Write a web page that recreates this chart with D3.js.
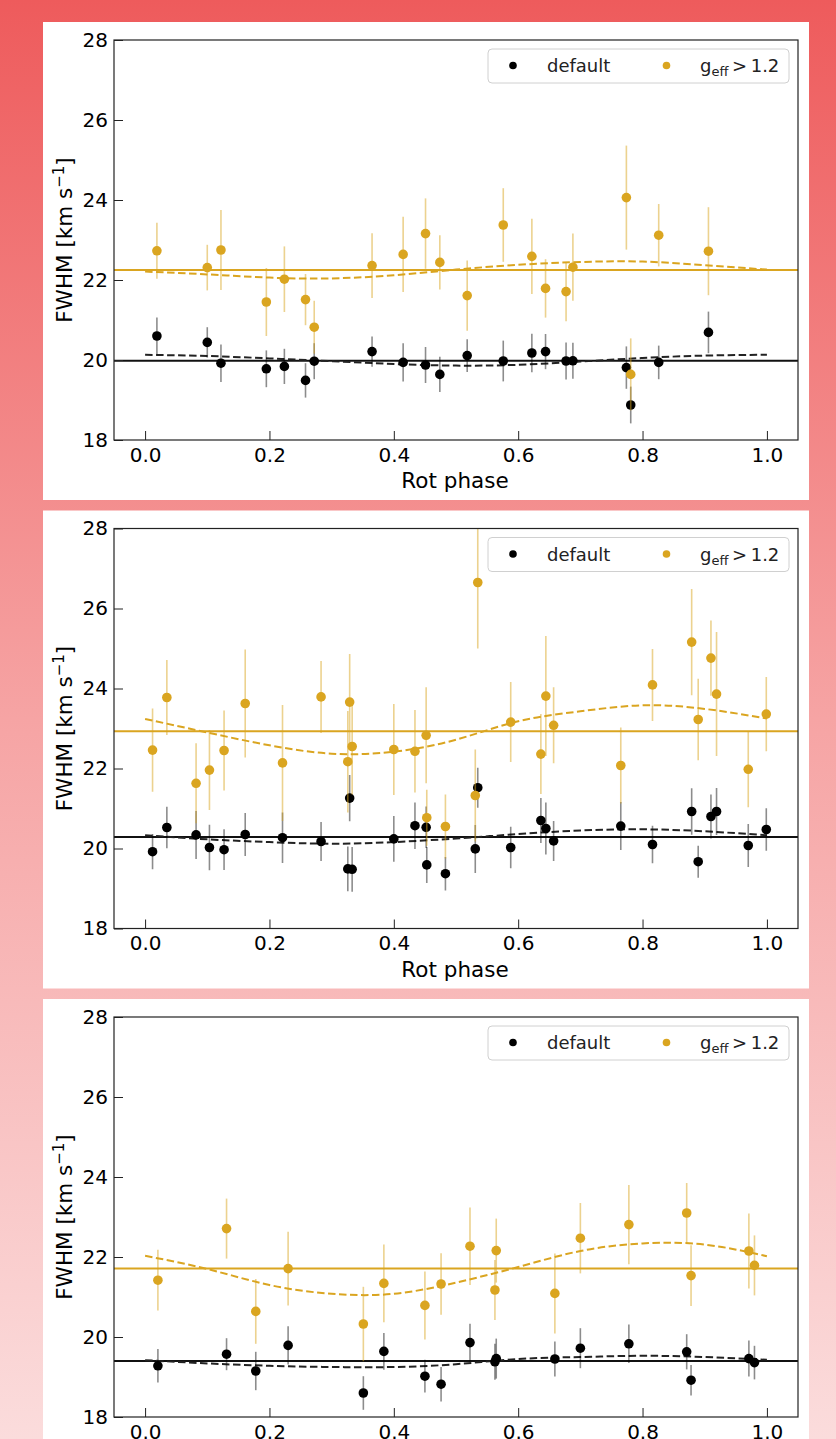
<!DOCTYPE html>
<html><head><meta charset="utf-8">
<script src="https://cdn.jsdelivr.net/npm/d3@7"></script>
<style>html,body{margin:0;padding:0;overflow:hidden}svg{display:block}</style>
</head><body>
<script>
// ---------- data ----------
const xTicks = [0, 0.2, 0.4, 0.6, 0.8, 1.0];
const yTicks = [18, 20, 22, 24, 26, 28];
const legendLabels = ["default", "g_eff > 1.2"];
const fitPhase = [0, 0.1, 0.2, 0.3, 0.4, 0.5, 0.6, 0.7, 0.8, 0.9, 1.0];

// panel 1
const p1Phase = [0.019,0.100,0.122,0.195,0.224,0.258,0.272,0.365,0.415,0.451,0.474,0.518,0.576,0.622,0.644,0.677,0.688,0.774,0.781,0.826,0.906];
const p1Gold = [22.73,22.31,22.75,21.45,22.02,21.51,20.82,22.36,22.64,23.16,22.44,21.61,23.375,22.59,21.79,21.71,22.32,24.06,19.64,23.12,22.72];
const p1GoldErr = [0.7,0.57,1.0,0.85,0.82,0.64,0.66,0.81,0.94,0.88,0.68,0.88,0.92,0.94,0.73,0.74,0.84,1.3,0.9,0.78,1.1];
const p1Def = [20.6,20.44,19.92,19.78,19.84,19.49,19.97,20.21,19.94,19.875,19.64,20.11,19.975,20.175,20.21,19.975,19.98,19.81,18.875,19.94,20.69];
const p1DefErr = [0.46,0.38,0.47,0.46,0.44,0.43,0.45,0.38,0.48,0.45,0.44,0.41,0.51,0.48,0.44,0.46,0.45,0.53,0.46,0.42,0.52];
const p1Mean = [19.98, 22.25];
const p1DefFit = [20.13,20.1,20.04,19.97,19.9,19.86,19.88,19.96,20.05,20.11,20.13];
const p1GoldFit = [22.21,22.14,22.06,22.04,22.12,22.26,22.38,22.45,22.46,22.37,22.26];

// panel 2
const p2Phase = [0.012,0.035,0.082,0.1035,0.127,0.161,0.221,0.283,0.329,0.326,0.333,0.400,0.434,0.452,0.453,0.483,0.535,0.531,0.588,0.6365,0.6445,0.657,0.765,0.816,0.879,0.8895,0.910,0.919,0.970,0.999];
const p2Gold = [22.46,23.775,21.63,21.96,22.45,23.625,22.14,23.79,23.66,22.17,22.55,22.475,22.43,22.83,20.77,20.55,26.65,21.325,23.16,22.36,23.81,23.08,22.075,24.09,25.16,23.225,24.76,23.86,21.98,23.36];
const p2GoldErr = [1.04,0.94,1.0,1.0,1.0,1.35,1.45,0.9,1.2,1.27,1.2,1.14,1.03,1.2,0.7,0.8,1.65,1.15,1.0,1.0,1.5,0.95,0.95,0.9,1.33,1.02,0.94,1.55,0.95,0.93];
const p2Def = [19.92,20.525,20.34,20.025,19.97,20.35,20.27,20.175,21.26,19.49,19.48,20.24,20.57,20.53,19.59,19.37,21.52,19.99,20.025,20.7,20.5,20.19,20.56,20.1,20.925,19.67,20.8,20.925,20.075,20.475];
const p2DefErr = [0.44,0.52,0.6,0.57,0.51,0.54,0.63,0.49,0.58,0.56,0.56,0.57,0.58,0.52,0.45,0.42,0.5,0.6,0.52,0.56,0.65,0.5,0.6,0.47,0.58,0.4,0.55,0.59,0.54,0.53];
const p2Mean = [20.29, 22.93];
const p2DefFit = [20.33,20.23,20.16,20.12,20.16,20.25,20.36,20.45,20.48,20.43,20.33];
const p2GoldFit = [23.24,22.9,22.58,22.37,22.42,22.72,23.18,23.43,23.58,23.49,23.25];

// panel 3
const p3Phase = [0.0206,0.131,0.178,0.230,0.351,0.384,0.450,0.476,0.5225,0.5647,0.5626,0.659,0.700,0.778,0.871,0.878,0.971,0.980];
const p3Gold = [21.42,22.71,20.64,21.71,20.325,21.34,20.79,21.325,22.27,22.16,21.175,21.09,22.47,22.81,23.1,21.535,22.15,21.79];
const p3GoldErr = [0.76,0.75,0.81,0.92,0.93,0.97,0.85,0.77,0.97,0.8,0.75,1.0,0.88,0.99,0.75,0.76,0.94,0.75];
const p3Def = [19.28,19.57,19.15,19.79,18.6,19.64,19.02,18.82,19.86,19.46,19.38,19.45,19.72,19.83,19.63,18.92,19.46,19.36];
const p3DefErr = [0.42,0.4,0.48,0.48,0.42,0.46,0.41,0.43,0.47,0.5,0.45,0.44,0.5,0.48,0.44,0.38,0.45,0.42];
const p3Mean = [19.4, 21.71];
const p3DefFit = [19.42,19.34,19.28,19.25,19.25,19.32,19.45,19.5,19.53,19.5,19.43];
const p3GoldFit = [22.03,21.7,21.3,21.08,21.08,21.36,21.75,22.15,22.34,22.31,22.02];

const panels = [
  {phase:p1Phase, gold:p1Gold, goldErr:p1GoldErr, def:p1Def, defErr:p1DefErr, mean:p1Mean, defFit:p1DefFit, goldFit:p1GoldFit},
  {phase:p2Phase, gold:p2Gold, goldErr:p2GoldErr, def:p2Def, defErr:p2DefErr, mean:p2Mean, defFit:p2DefFit, goldFit:p2GoldFit},
  {phase:p3Phase, gold:p3Gold, goldErr:p3GoldErr, def:p3Def, defErr:p3DefErr, mean:p3Mean, defFit:p3DefFit, goldFit:p3GoldFit}
];

// ---------- drawing ----------
const W = 836, H = 1439;
const GOLD = "#DAA520";
const svg = d3.select("body").append("svg").attr("width", W).attr("height", H)
  .style("font-family", "'DejaVu Sans', sans-serif");
const defs = svg.append("defs");
const grad = defs.append("linearGradient").attr("id","bg").attr("x1",0).attr("y1",0).attr("x2",0).attr("y2",1);
grad.append("stop").attr("offset","0%").attr("stop-color","#ee5b5c");
grad.append("stop").attr("offset","50%").attr("stop-color","#f6a4a4");
grad.append("stop").attr("offset","100%").attr("stop-color","#fbdcdc");
svg.append("rect").attr("width",W).attr("height",H).attr("fill","url(#bg)");

const axL = 114, axR = 798, axH = 400;
const panelTop = [40, 528.5, 1017];

panels.forEach((p, i) => {
  const top = panelTop[i];
  svg.append("rect").attr("x",43).attr("y",top-18).attr("width",766).attr("height",478).attr("fill","#fff");

  const x = d3.scaleLinear().domain([-0.05, 1.05]).range([axL, axR]);
  const y = d3.scaleLinear().domain([18, 28]).range([top + axH, top]);

  const clipId = "clip" + i;
  defs.append("clipPath").attr("id", clipId).append("rect")
    .attr("x", axL).attr("y", top).attr("width", axR-axL).attr("height", axH);
  const g = svg.append("g").attr("clip-path", `url(#${clipId})`);

  g.append("line").attr("x1",axL).attr("x2",axR).attr("y1",y(p.mean[0])).attr("y2",y(p.mean[0]))
    .attr("stroke","#111").attr("stroke-width",2);
  g.append("line").attr("x1",axL).attr("x2",axR).attr("y1",y(p.mean[1])).attr("y2",y(p.mean[1]))
    .attr("stroke",GOLD).attr("stroke-width",2);

  const line = d3.line().x((d,k)=>x(fitPhase[k])).y(d=>y(d)).curve(d3.curveNatural);
  g.append("path").attr("d", line(p.defFit)).attr("fill","none").attr("stroke","#222")
    .attr("stroke-width",2).attr("stroke-dasharray","7.5,3.5");
  g.append("path").attr("d", line(p.goldFit)).attr("fill","none").attr("stroke",GOLD)
    .attr("stroke-width",2).attr("stroke-dasharray","7.5,3.5");

  const defData = p.phase.map((ph,k)=>({ph, v:p.def[k], e:p.defErr[k]}));
  g.selectAll(null).data(defData).enter().append("line")
    .attr("x1",d=>x(d.ph)).attr("x2",d=>x(d.ph)).attr("y1",d=>y(d.v-d.e)).attr("y2",d=>y(d.v+d.e))
    .attr("stroke","rgba(0,0,0,0.45)").attr("stroke-width",1.6);
  g.selectAll(null).data(defData).enter().append("circle")
    .attr("cx",d=>x(d.ph)).attr("cy",d=>y(d.v)).attr("r",4.8).attr("fill","#000");

  const goldData = p.phase.map((ph,k)=>({ph, v:p.gold[k], e:p.goldErr[k]}));
  g.selectAll(null).data(goldData).enter().append("line")
    .attr("x1",d=>x(d.ph)).attr("x2",d=>x(d.ph)).attr("y1",d=>y(d.v-d.e)).attr("y2",d=>y(d.v+d.e))
    .attr("stroke","rgba(218,165,32,0.5)").attr("stroke-width",1.6);
  g.selectAll(null).data(goldData).enter().append("circle")
    .attr("cx",d=>x(d.ph)).attr("cy",d=>y(d.v)).attr("r",4.8).attr("fill",GOLD);

  const xa = svg.append("g").attr("transform",`translate(0,${top+axH})`)
    .call(d3.axisBottom(x).tickValues(xTicks).tickFormat(d3.format(".1f"))
      .tickSizeInner(-9).tickSizeOuter(0).tickPadding(7.5));
  const ya = svg.append("g").attr("transform",`translate(${axL},0)`)
    .call(d3.axisLeft(y).tickValues(yTicks).tickFormat(d3.format("d"))
      .tickSizeInner(-9).tickSizeOuter(0).tickPadding(6));
  [xa, ya].forEach(a => {
    a.select(".domain").remove();
    a.selectAll("text").attr("font-size",20).attr("fill","#000").style("font-family","'DejaVu Sans', sans-serif");
    a.selectAll(".tick line").attr("stroke","#222").attr("stroke-width",1);
  });
  svg.append("rect").attr("x",axL).attr("y",top).attr("width",axR-axL).attr("height",axH)
    .attr("fill","none").attr("stroke","#222").attr("stroke-width",1.2);

  svg.append("text").attr("x",(axL+axR)/2 - 1).attr("y",top+axH+48).attr("text-anchor","middle")
    .attr("font-size",21.5).attr("fill","#000").text("Rot phase");
  const yl = svg.append("text").attr("transform",`translate(72,${top+axH/2}) rotate(-90)`)
    .attr("text-anchor","middle").attr("font-size",21.5).attr("fill","#000");
  yl.append("tspan").text("FWHM [km s");
  yl.append("tspan").attr("font-size",15).attr("dy",-8).text("\u22121");
  yl.append("tspan").attr("dy",8).text("]");

  const lg = svg.append("g").attr("transform",`translate(0,${top})`);
  lg.append("rect").attr("x",488).attr("y",9).attr("width",301).attr("height",34).attr("rx",4)
    .attr("fill","#fff").attr("fill-opacity",0.85).attr("stroke","#d0d0d0").attr("stroke-width",1);
  lg.append("circle").attr("cx",513).attr("cy",25.5).attr("r",3.8).attr("fill","#000");
  lg.append("text").attr("x",547).attr("y",32).attr("font-size",18).attr("fill","#222").text(legendLabels[0]);
  lg.append("circle").attr("cx",666.5).attr("cy",25.5).attr("r",3.8).attr("fill",GOLD);
  const parts = legendLabels[1].split(/_| /);
  const t2 = lg.append("text").attr("x",700).attr("y",32).attr("font-size",18).attr("fill","#222");
  t2.append("tspan").text(parts[0]);
  t2.append("tspan").attr("font-size",13).attr("dy",4).text(parts[1]);
  t2.append("tspan").attr("dy",-4).text("\u2009" + parts[2] + "\u2009" + parts[3]);
});
</script>
</body></html>
